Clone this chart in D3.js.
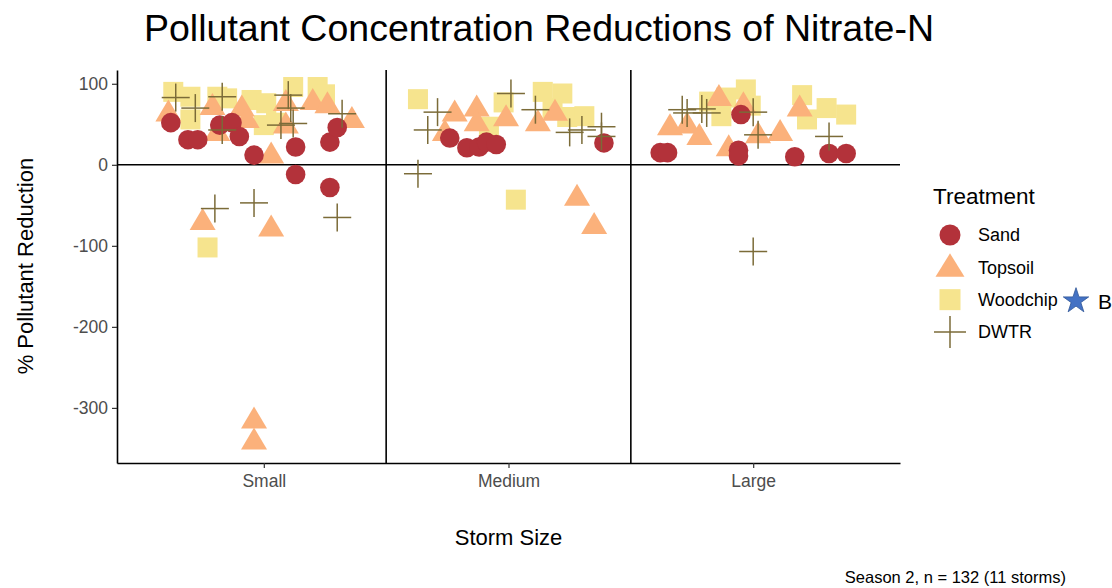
<!DOCTYPE html>
<html>
<head>
<meta charset="utf-8">
<script src="https://cdn.jsdelivr.net/npm/d3@7"></script>
<style>
  body { margin: 0; background: #fff; }
  svg { font-family: "Liberation Sans", Arial, sans-serif; }
</style>
</head>
<body>
<svg id="chart" width="1112" height="588"></svg>
<script>
// storm size categories (ggplot discrete positions 1..3)
var sizes = ["Small", "Medium", "Large"];
var yTicks = [100, 0, -100, -200, -300];

// each point: [storm size, jitter (in category units), % reduction]
var sand = [
  ["Small", -0.38, 52], ["Small", -0.31, 31], ["Small", -0.27, 31], ["Small", -0.18, 49],
  ["Small", -0.13, 52], ["Small", -0.10, 35], ["Small", -0.04, 12], ["Small", 0.13, 22],
  ["Small", 0.13, -12], ["Small", 0.27, 28], ["Small", 0.30, 46], ["Small", 0.27, -28],
  ["Medium", -0.24, 33], ["Medium", -0.17, 21], ["Medium", -0.12, 22], ["Medium", -0.09, 28],
  ["Medium", -0.05, 25], ["Medium", 0.39, 27],
  ["Large", -0.38, 15], ["Large", -0.35, 15], ["Large", -0.06, 18], ["Large", -0.06, 11],
  ["Large", -0.05, 62], ["Large", 0.17, 10], ["Large", 0.31, 14], ["Large", 0.38, 14]
];
var topsoil = [
  ["Small", -0.39, 64], ["Small", -0.21, 72], ["Small", -0.09, 70], ["Small", -0.07, 56],
  ["Small", 0.09, 77], ["Small", 0.09, 49], ["Small", 0.20, 78], ["Small", 0.26, 74],
  ["Small", 0.36, 56], ["Small", 0.03, 12], ["Small", -0.19, 40], ["Small", -0.25, -70],
  ["Small", 0.03, -78], ["Small", -0.04, -315], ["Small", -0.04, -341],
  ["Medium", -0.26, 40], ["Medium", -0.22, 64], ["Medium", -0.13, 70], ["Medium", -0.13, 52],
  ["Medium", -0.01, 58], ["Medium", 0.12, 52], ["Medium", 0.19, 65], ["Medium", 0.28, -40],
  ["Medium", 0.35, -75],
  ["Large", -0.34, 47], ["Large", -0.27, 49], ["Large", -0.22, 35], ["Large", -0.10, 21],
  ["Large", 0.02, 37], ["Large", -0.14, 83], ["Large", -0.04, 74], ["Large", 0.11, 40],
  ["Large", 0.19, 70]
];
var woodchip = [
  ["Small", -0.37, 90], ["Small", -0.30, 84], ["Small", -0.30, 56], ["Small", -0.19, 84],
  ["Small", -0.15, 82], ["Small", -0.05, 80], ["Small", 0.01, 76], ["Small", 0.00, 49],
  ["Small", 0.05, 52], ["Small", 0.12, 96], ["Small", 0.22, 96], ["Small", 0.25, 87],
  ["Small", -0.23, -102],
  ["Medium", -0.37, 81], ["Medium", -0.02, 77], ["Medium", 0.14, 90], ["Medium", 0.22, 88],
  ["Medium", 0.18, 70], ["Medium", 0.24, 59], ["Medium", 0.31, 60], ["Medium", -0.08, 47],
  ["Medium", 0.03, -43],
  ["Large", -0.18, 78], ["Large", -0.11, 83], ["Large", -0.03, 93], ["Large", -0.01, 73],
  ["Large", -0.13, 60], ["Large", 0.20, 86], ["Large", 0.22, 56], ["Large", 0.30, 70],
  ["Large", 0.38, 62]
];
var dwtr = [
  ["Small", -0.36, 83], ["Small", -0.28, 70], ["Small", -0.17, 84], ["Small", -0.17, 43],
  ["Small", 0.10, 86], ["Small", 0.11, 70], ["Small", 0.07, 49], ["Small", 0.12, 51],
  ["Small", 0.32, 63], ["Small", -0.20, -54], ["Small", -0.04, -47], ["Small", 0.30, -65],
  ["Medium", -0.29, 65], ["Medium", -0.33, 43], ["Medium", 0.01, 88], ["Medium", 0.11, 68],
  ["Medium", 0.25, 40], ["Medium", 0.30, 43], ["Medium", 0.38, 47], ["Medium", 0.38, 35],
  ["Medium", -0.37, -11],
  ["Large", -0.29, 68], ["Large", -0.27, 64], ["Large", -0.21, 69], ["Large", -0.19, 64],
  ["Large", 0.00, 65], ["Large", 0.02, 37], ["Large", 0.31, 35], ["Large", 0.00, -107]
];

var treatments = ["Sand", "Topsoil", "Woodchip", "DWTR"];
var colors = {Sand: "#b3323a", Topsoil: "#fbb17b", Woodchip: "#f6e48e", DWTR: "#7b6b38"};

var svg = d3.select("#chart");
var margin = {top: 70, right: 212, bottom: 125, left: 117};
var width = 1112 - margin.left - margin.right;
var height = 588 - margin.top - margin.bottom;

// discrete positions expanded by 0.6 like ggplot
var x = d3.scaleLinear().domain([0.4, 3.6]).range([0, width]);
var y = d3.scaleLinear().domain([-368, 117]).range([height, 0]);
function px(d) { return x(sizes.indexOf(d[0]) + 1 + d[1]); }

var g = svg.append("g").attr("transform", "translate(" + margin.left + "," + margin.top + ")");

// reference lines
g.append("line").attr("x1", 0).attr("x2", width).attr("y1", y(0)).attr("y2", y(0))
  .attr("stroke", "#000").attr("stroke-width", 1.6);
[1.5, 2.5].forEach(function(v) {
  g.append("line").attr("x1", x(v)).attr("x2", x(v)).attr("y1", 0).attr("y2", height)
    .attr("stroke", "#000").attr("stroke-width", 1.6);
});

// axes
var yAxis = g.append("g").call(d3.axisLeft(y).tickValues(yTicks).tickSizeInner(5).tickSizeOuter(0)
  .tickPadding(4).tickFormat(function(d) { return String(d); }));
var xAxis = g.append("g").attr("transform", "translate(0," + height + ")")
  .call(d3.axisBottom(x).tickValues([1, 2, 3]).tickFormat(function(d) { return sizes[d - 1]; })
    .tickSizeInner(5).tickSizeOuter(0).tickPadding(7));
[yAxis, xAxis].forEach(function(a) {
  a.select(".domain").attr("stroke", "#000").attr("stroke-width", 1.6);
  a.selectAll(".tick line").attr("stroke", "#333").attr("stroke-width", 1.2);
  a.selectAll(".tick text").attr("fill", "#4d4d4d").style("font-size", "17.5px")
    .style("font-family", "Liberation Sans, Arial, sans-serif");
});

// marks
var triPath = "M0,-13.5L13,8.5L-13,8.5Z";

g.append("g").selectAll("rect").data(woodchip).enter().append("rect")
  .attr("x", function(d) { return px(d) - 10; })
  .attr("y", function(d) { return y(d[2]) - 10; })
  .attr("width", 20).attr("height", 20)
  .attr("fill", colors.Woodchip);

g.append("g").selectAll("path").data(topsoil).enter().append("path")
  .attr("d", triPath)
  .attr("transform", function(d) { return "translate(" + px(d) + "," + y(d[2]) + ")"; })
  .attr("fill", colors.Topsoil);

g.append("g").selectAll("circle").data(sand).enter().append("circle")
  .attr("cx", px).attr("cy", function(d) { return y(d[2]); })
  .attr("r", 9.8).attr("fill", colors.Sand);

var plus = g.append("g").attr("stroke", colors.DWTR).attr("stroke-width", 1.5)
  .selectAll("g").data(dwtr).enter().append("g")
  .attr("transform", function(d) { return "translate(" + px(d) + "," + y(d[2]) + ")"; });
plus.append("line").attr("x1", -14).attr("x2", 14);
plus.append("line").attr("y1", -14).attr("y2", 14);

// titles
svg.append("text").attr("x", 539).attr("y", 41).attr("text-anchor", "middle")
  .style("font-size", "37.5px").attr("fill", "#000")
  .text("Pollutant Concentration Reductions of Nitrate-N");
svg.append("text").attr("transform", "translate(33," + (margin.top + y(-125)) + ") rotate(-90)")
  .attr("text-anchor", "middle").style("font-size", "22px")
  .text("% Pollutant Reduction");
svg.append("text").attr("x", margin.left + x(2)).attr("y", 545).attr("text-anchor", "middle")
  .style("font-size", "22px").text("Storm Size");
svg.append("text").attr("x", 1066).attr("y", 583).attr("text-anchor", "end")
  .style("font-size", "16.5px").text("Season 2, n = 132 (11 storms)");

// legend
var lg = svg.append("g").attr("transform", "translate(933,0)");
lg.append("text").attr("x", 0).attr("y", 204).style("font-size", "22.5px").text("Treatment");
var keyY = d3.scalePoint().domain(treatments).range([235, 332]);
var key = lg.selectAll(".key").data(treatments).enter().append("g")
  .attr("class", "key")
  .attr("transform", function(d) { return "translate(17," + keyY(d) + ")"; });
key.each(function(t) {
  var k = d3.select(this);
  if (t === "Sand") k.append("circle").attr("r", 10.5).attr("fill", colors.Sand);
  if (t === "Topsoil") k.append("path").attr("d", "M0,-14L14.5,9.5L-14.5,9.5Z").attr("fill", colors.Topsoil);
  if (t === "Woodchip") k.append("rect").attr("x", -10.5).attr("y", -10.5)
    .attr("width", 21).attr("height", 21).attr("fill", colors.Woodchip);
  if (t === "DWTR") {
    k.append("line").attr("x1", -16).attr("x2", 16).attr("stroke", colors.DWTR).attr("stroke-width", 1.5);
    k.append("line").attr("y1", -16).attr("y2", 16).attr("stroke", colors.DWTR).attr("stroke-width", 1.5);
  }
});
key.append("text").attr("x", 28).attr("dy", "0.35em").style("font-size", "18px")
  .text(function(d) { return d; });

// stray star + label beside legend
lg.append("path").attr("d", d3.symbol().type(d3.symbolStar).size(200)())
  .attr("transform", "translate(143,301)").attr("fill", "#4472c4").attr("stroke", "#2f5597")
  .attr("stroke-width", 0.8);
lg.append("text").attr("x", 165).attr("y", 309).style("font-size", "21px").text("B");
</script>
</body>
</html>
